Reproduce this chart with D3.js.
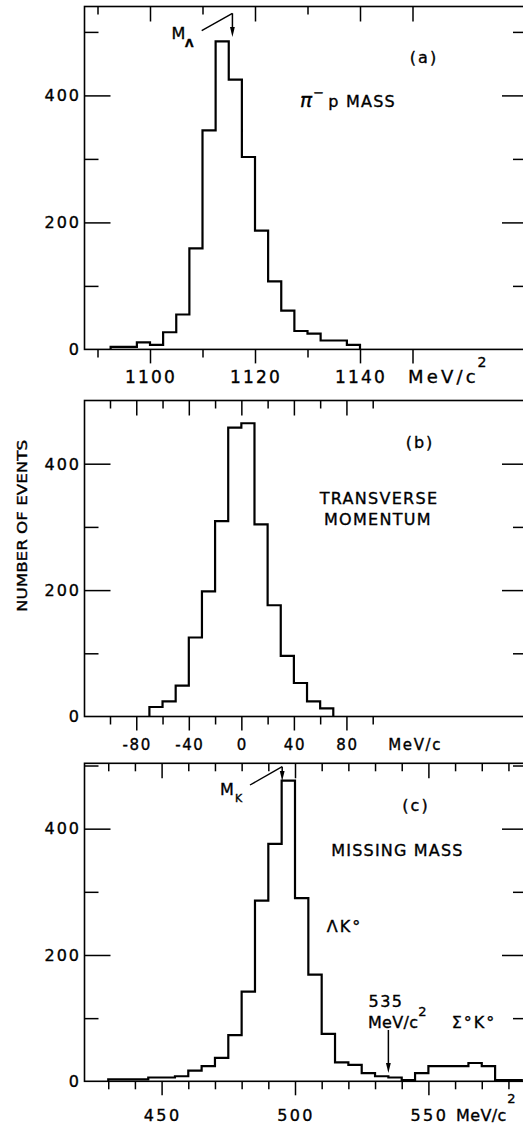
<!DOCTYPE html>
<html>
<head>
<meta charset="utf-8">
<script src="https://cdn.jsdelivr.net/npm/d3@7"></script>
<style>
  html, body { margin: 0; padding: 0; background: #fff; }
  svg { display: block; }
  text { font-family: "DejaVu Sans", "Liberation Sans", sans-serif; fill: #000; stroke: #000; stroke-width: 0.35px; }
</style>
</head>
<body>
<svg id="chart" width="523" height="1126"></svg>
<script>
// (a) pi- p invariant mass, 2.5 MeV/c^2 bins (lower edges)
const massBins = [1092.5, 1095, 1097.5, 1100, 1102.5, 1105, 1107.5, 1110, 1112.5, 1115,
                  1117.5, 1120, 1122.5, 1125, 1127.5, 1130, 1132.5, 1135, 1137.5];
const massCounts = [4, 4, 11, 7, 27, 55, 159, 345, 485, 425, 303, 187, 107, 61, 29, 25, 14, 14, 7];
const massBinWidth = 2.5;
const massTicks = [1090, 1100, 1110, 1120, 1130, 1140, 1150];
const massLongTicks = [1100, 1120, 1140, 1150];
const massLabels = [1100, 1120, 1140];
const lambdaMass = 1115.7;

// (b) transverse momentum, 10 MeV/c bins
const ptBins = [-70, -60, -50, -40, -30, -20, -10, 0, 10, 20, 30, 40, 50, 60];
const ptCounts = [15, 24, 49, 125, 198, 309, 457, 464, 304, 176, 96, 53, 24, 13];
const ptBinWidth = 10;
const ptTicks = [-100, -80, -60, -40, -20, 0, 20, 40, 60, 80, 100];
const ptLabels = [-80, -40, 0, 40, 80];

// (c) missing mass, 5 MeV/c^2 bins
const mmBins = [430, 435, 440, 445, 450, 455, 460, 465, 470, 475, 480, 485, 490, 495, 500,
                505, 510, 515, 520, 525, 530, 535, 540, 545, 550, 555, 560, 565, 570, 575, 580];
const mmCounts = [3, 3, 3, 6, 6, 8, 17, 24, 37, 73, 142, 286, 376, 476, 290,
                  169, 75, 30, 26, 13, 8, 6, 2, 13, 24, 24, 24, 29, 24, 2, 2];
const mmBinWidth = 5;
const mmTicks = [430, 440, 450, 460, 470, 480, 490, 500, 510, 520, 530, 540, 550, 560, 570, 580];
const mmLabels = [450, 500, 550];
const kaonMarker = 495.2;
const thresholdMass = 535;

// common count axis
const countTicks = [100, 200, 300, 400, 500];
const countLabels = [0, 200, 400];

const svg = d3.select("#chart");
const LEFT = 84.5, RIGHT = 527;

function histPath(x, y, bins, counts, w) {
  let d = `M${x(bins[0])},${y(0)}`;
  bins.forEach((b, i) => {
    d += `L${x(b)},${y(counts[i])}L${x(b + w)},${y(counts[i])}`;
  });
  d += `L${x(bins[bins.length - 1] + w)},${y(0)}`;
  return d;
}

function styleAxis(sel) {
  sel.select(".domain").remove();
  sel.selectAll(".tick line").attr("stroke", "#000").attr("stroke-width", 1.5);
  sel.selectAll(".tick text").remove();
}

function drawPanel(p) {
  const x = d3.scaleLinear().domain(p.xDomain).range([LEFT, RIGHT]);
  const y = d3.scaleLinear().domain([0, p.yMax]).range([p.bottom, p.top]);
  const g = svg.append("g");

  // frame
  g.append("rect")
    .attr("x", LEFT).attr("y", p.top)
    .attr("width", RIGHT - LEFT).attr("height", p.bottom - p.top)
    .attr("fill", "none").attr("stroke", "#000").attr("stroke-width", 1.6);

  const longT = p.ticks.filter(t => p.longTicks.includes(t));
  const shortT = p.ticks.filter(t => !p.longTicks.includes(t));

  // bottom ticks (outward)
  g.append("g").attr("transform", `translate(0,${p.bottom})`)
    .call(d3.axisBottom(x).tickValues(longT).tickSize(14).tickFormat("")).call(styleAxis);
  g.append("g").attr("transform", `translate(0,${p.bottom})`)
    .call(d3.axisBottom(x).tickValues(shortT).tickSize(8).tickFormat("")).call(styleAxis);
  // top ticks (inward)
  g.append("g").attr("transform", `translate(0,${p.top})`)
    .call(d3.axisBottom(x).tickValues(longT).tickSize(15).tickFormat("")).call(styleAxis);
  g.append("g").attr("transform", `translate(0,${p.top})`)
    .call(d3.axisBottom(x).tickValues(shortT).tickSize(8).tickFormat("")).call(styleAxis);

  // count ticks, inward on both sides
  const yt = countTicks.filter(t => t < p.yMax - 2);
  const yMajor = yt.filter(t => t % 200 === 0), yMinor = yt.filter(t => t % 200 !== 0);
  g.append("g").attr("transform", `translate(${LEFT},0)`)
    .call(d3.axisRight(y).tickValues(yMajor).tickSize(26).tickFormat("")).call(styleAxis);
  g.append("g").attr("transform", `translate(${LEFT},0)`)
    .call(d3.axisRight(y).tickValues(yMinor).tickSize(14).tickFormat("")).call(styleAxis);
  g.append("g").attr("transform", `translate(${RIGHT},0)`)
    .call(d3.axisLeft(y).tickValues(yMajor).tickSize(25).tickFormat("")).call(styleAxis);
  g.append("g").attr("transform", `translate(${RIGHT},0)`)
    .call(d3.axisLeft(y).tickValues(yMinor).tickSize(14).tickFormat("")).call(styleAxis);

  // count labels
  g.selectAll("text.ylab").data(countLabels).join("text")
    .attr("class", "ylab")
    .attr("x", 81).attr("y", d => y(d) + 5.8)
    .attr("text-anchor", "end")
    .style("font-size", "16px").style("letter-spacing", "2px")
    .text(d => d);

  // x labels
  g.selectAll("text.xlab").data(p.labels).join("text")
    .attr("class", "xlab")
    .attr("x", d => x(d) + 1).attr("y", p.bottom + p.labelDrop)
    .attr("text-anchor", "middle")
    .style("font-size", p.labelSize + "px").style("letter-spacing", p.labelSpacing + "px")
    .text(d => d);

  // histogram
  g.append("path")
    .attr("d", histPath(x, y, p.bins, p.counts, p.w))
    .attr("fill", "none").attr("stroke", "#000").attr("stroke-width", 2.2)
    .attr("stroke-linejoin", "miter");

  return { g, x, y };
}

function arrowDown(g, x, y1, y2) {
  g.append("line").attr("x1", x).attr("x2", x).attr("y1", y1).attr("y2", y2 - 8)
    .attr("stroke", "#000").attr("stroke-width", 1.5);
  g.append("path").attr("d", `M${x - 2.4},${y2 - 10}L${x + 2.4},${y2 - 10}L${x},${y2}Z`)
    .attr("fill", "#000");
}

function label(g, x, y, txt, size, spacing, anchor) {
  return g.append("text").attr("x", x).attr("y", y)
    .attr("text-anchor", anchor || "start")
    .style("font-size", size + "px").style("letter-spacing", (spacing || 0) + "px")
    .text(txt);
}

// ---------- panel (a) ----------
const pa = drawPanel({
  xDomain: [1100 - (150 - LEFT) / 5.25, 1100 + (RIGHT - 150) / 5.25],
  yMax: 540, top: 6.5, bottom: 349.4,
  bins: massBins, counts: massCounts, w: massBinWidth,
  ticks: massTicks, longTicks: massLongTicks, labels: massLabels,
  labelDrop: 33.8, labelSize: 17, labelSpacing: 2.2
});
{
  const t = label(pa.g, 408, 383.2, "MeV/c", 18, 3.2);
  t.append("tspan").attr("dy", -16).attr("dx", -1.5).style("font-size", "14px").text("2");
  label(pa.g, 424, 63, "(a)", 16, 2, "middle");
  const m = label(pa.g, 300, 107, "", 16, 1.2);
  m.append("tspan").style("font-style", "italic").style("font-size", "20px").text("π");
  m.append("tspan").attr("dy", -10).style("font-size", "13px").text("−");
  m.append("tspan").attr("dy", 10).attr("dx", 3).text("p MASS");
  const xl = pa.x(lambdaMass);
  label(pa.g, 171.5, 38.5, "M", 16, 0);
  label(pa.g, 185, 46.5, "Λ", 11, 0).style("font-weight", "bold");
  pa.g.append("line").attr("x1", 201.7).attr("y1", 30.7).attr("x2", xl).attr("y2", 13.3)
    .attr("stroke", "#000").attr("stroke-width", 1.4);
  arrowDown(pa.g, xl, 13.3, 37);
}

// ---------- panel (b) ----------
const pb = drawPanel({
  xDomain: [(LEFT - 241.35) / 1.3135, (RIGHT - 241.35) / 1.3135],
  yMax: 500, top: 400.5, bottom: 716.5,
  bins: ptBins, counts: ptCounts, w: ptBinWidth,
  ticks: ptTicks, longTicks: ptLabels, labels: ptLabels,
  labelDrop: 33.5, labelSize: 15, labelSpacing: 1.6
});
{
  label(pb.g, 388.3, 750, "MeV/c", 15, 1.6);
  label(pb.g, 420, 448, "(b)", 16, 2, "middle");
  label(pb.g, 379, 504, "TRANSVERSE", 16, 1.3, "middle");
  label(pb.g, 378, 525, "MOMENTUM", 16, 1.3, "middle");
}

// ---------- panel (c) ----------
const pc = drawPanel({
  xDomain: [500 - (295 - LEFT) / 2.668, 500 + (RIGHT - 295) / 2.668],
  yMax: 503.5, top: 763.3, bottom: 1081.3,
  bins: mmBins, counts: mmCounts, w: mmBinWidth,
  ticks: mmTicks, longTicks: mmLabels, labels: mmLabels,
  labelDrop: 40, labelSize: 16, labelSpacing: 2.4
});
{
  const t = label(pc.g, 456, 1121, "MeV/c", 16, 0.4);
  t.append("tspan").attr("dy", -18).attr("dx", 0.5).style("font-size", "13px").text("2");
  label(pc.g, 416, 811, "(c)", 16, 2, "middle");
  label(pc.g, 397.5, 856, "MISSING MASS", 16, 1.2, "middle");
  label(pc.g, 326.7, 931.5, "ΛK°", 16, 2);
  label(pc.g, 386, 1006.5, "535", 16, 1.5, "middle");
  const u = label(pc.g, 368, 1028, "MeV/c", 16, 0.3);
  u.append("tspan").attr("dy", -12).style("font-size", "13px").text("2");
  label(pc.g, 451.7, 1028, "Σ°K°", 16, 2);
  const xk = pc.x(kaonMarker);
  label(pc.g, 220, 795, "M", 16, 0);
  label(pc.g, 235, 802, "K", 11, 0);
  pc.g.append("line").attr("x1", 250).attr("y1", 785).attr("x2", xk).attr("y2", 766.7)
    .attr("stroke", "#000").attr("stroke-width", 1.4);
  arrowDown(pc.g, xk, 766.7, 781);
  arrowDown(pc.g, pc.x(thresholdMass), 1030, 1073);
}

// shared count title
svg.append("text")
  .attr("transform", "translate(26.5,526) rotate(-90)")
  .attr("text-anchor", "middle")
  .style("font-size", "14px")
  .style("font-stretch", "condensed")
  .attr("textLength", 172).attr("lengthAdjust", "spacingAndGlyphs")
  .text("NUMBER OF EVENTS");
</script>
</body>
</html>
